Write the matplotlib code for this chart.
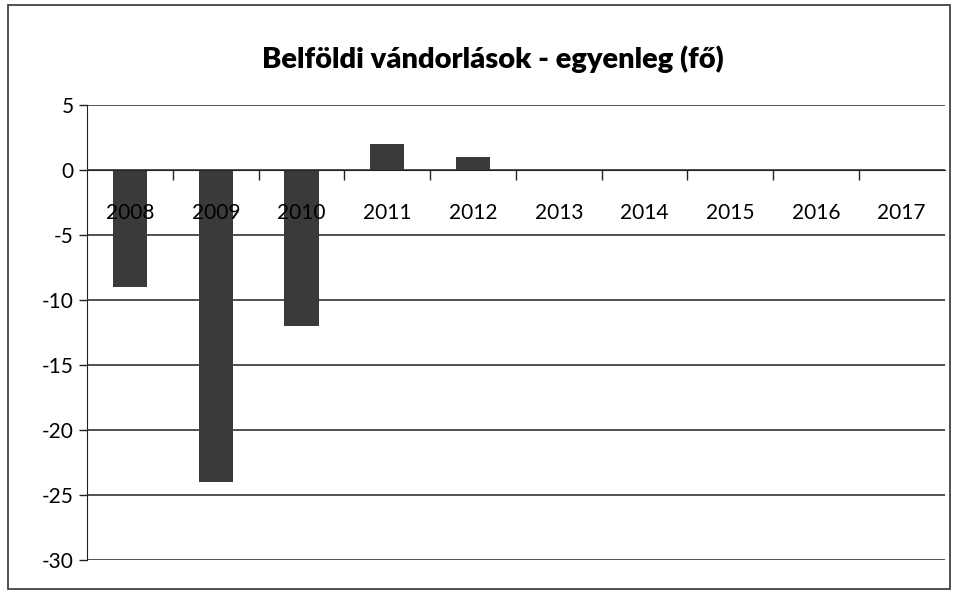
import matplotlib.pyplot as plt
from matplotlib.patches import Rectangle
from matplotlib.ticker import FixedLocator, NullFormatter

years = ['2008', '2009', '2010', '2011', '2012', '2013', '2014', '2015', '2016', '2017']
balance = [-9, -24, -12, 2, 1, 0, 0, 0, 0, 0]
y_ticks = [5, 0, -5, -10, -15, -20, -25, -30]

plt.rcParams['font.family'] = ['Lato', 'DejaVu Sans']

fig = plt.figure(figsize=(9.58, 5.95), dpi=100)
ax = fig.add_axes([0.091, 0.059, 0.895, 0.765])
ax.set_axisbelow(False)

x = list(range(len(years)))
ax.bar(x, balance, width=0.4, color='#3a3a3a', linewidth=0, zorder=2)
for v in y_ticks:
    ax.axhline(v, color='#222222', linewidth=1.1, zorder=1)

ax.set_xlim(-0.5, len(years) - 0.5)
ax.set_ylim(-30, 5)
ax.set_yticks(y_ticks)
ax.set_yticklabels([str(v) for v in y_ticks], fontsize=15)
ax.tick_params(axis='y', length=6, width=1, color='#222222')

# category axis at zero, ticks between categories, labels under the axis line
ax.spines['bottom'].set_position(('data', 0))
ax.spines['bottom'].set_color('#222222')
ax.spines['top'].set_visible(False)
ax.spines['right'].set_visible(False)
ax.spines['left'].set_color('#222222')
ax.xaxis.set_major_locator(FixedLocator([i + 0.5 for i in range(len(years) - 1)]))
ax.xaxis.set_major_formatter(NullFormatter())
ax.xaxis.set_minor_locator(FixedLocator(x))
ax.set_xticklabels(years, minor=True, fontsize=15)
ax.tick_params(axis='x', which='major', length=7, width=1, direction='out', color='#222222')
ax.tick_params(axis='x', which='minor', length=0, pad=24)

fig.text(0.515, 0.9, 'Belföldi vándorlások - egyenleg (fő)', ha='center', va='center',
         fontsize=21, fontweight='heavy')

fig.patches.append(Rectangle((0.008, 0.01), 0.984, 0.982, transform=fig.transFigure,
                             fill=False, edgecolor='#333333', linewidth=1.2))

fig.savefig('out.png', dpi=100)
